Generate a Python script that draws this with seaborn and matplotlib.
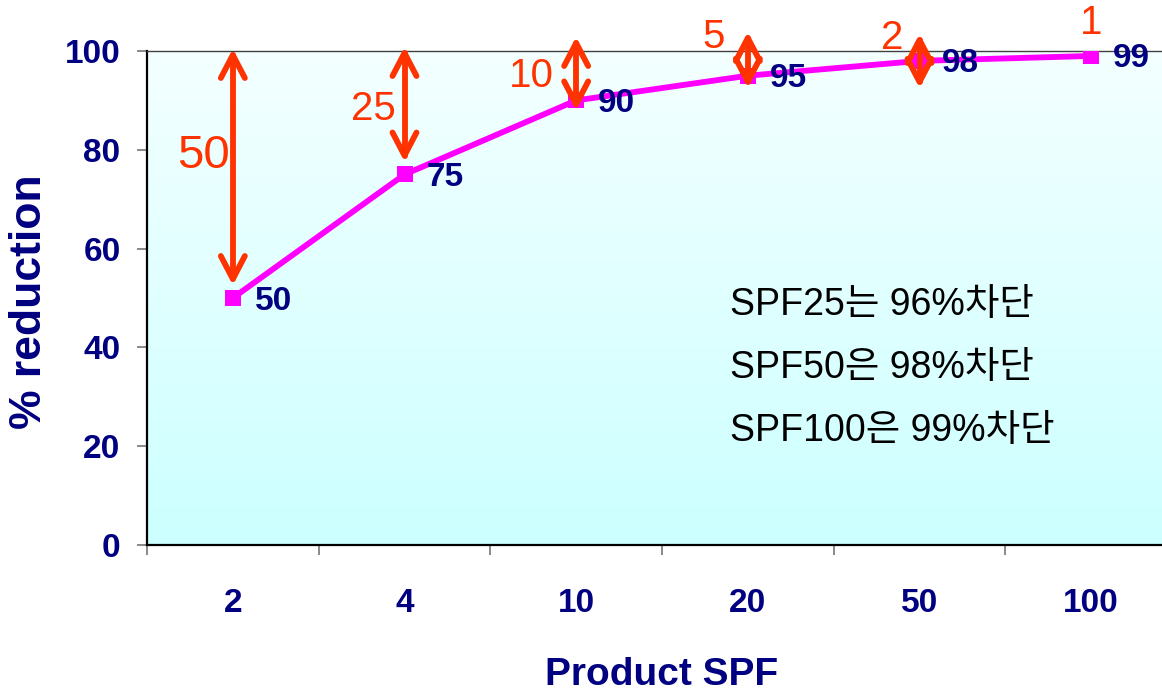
import numpy as np
import pandas as pd
import matplotlib
matplotlib.use("Agg")
import matplotlib.pyplot as plt
from matplotlib.colors import LinearSegmentedColormap
import seaborn as sns

# SPF products and the share of UV they block
spf_labels = ["2", "4", "10", "20", "50", "100"]
reduction = [50, 75, 90, 95, 98, 99]
# remaining UV that gets through (100 - reduction)
passed = [100 - r for r in reduction]

notes = ["SPF25는 96%차단", "SPF50은 98%차단", "SPF100은 99%차단"]

NAVY = "#000080"
MAGENTA = "#FF00FF"
ORANGE = "#FF3300"

sns.set_theme(style="white")
plt.rcParams["font.family"] = ["Liberation Sans", "DejaVu Sans"]
note_font = ["Liberation Sans", "Noto Sans CJK KR", "Noto Sans CJK SC", "DejaVu Sans"]

W, H = 1162, 694
fig = plt.figure(figsize=(W / 100, H / 100), dpi=100)
ax = fig.add_axes([147 / W, 149 / H, 1030 / W, 494 / H])

df = pd.DataFrame({"pos": np.arange(len(spf_labels)), "reduction": reduction})
n = len(spf_labels)

# soft cyan gradient behind the data
grad = np.linspace(0, 1, 256).reshape(-1, 1)
cmap = LinearSegmentedColormap.from_list("bg", ["#CCFFFF", "#F4FFFF"])
ax.imshow(grad, cmap=cmap, aspect="auto", origin="lower",
          extent=[-0.5, n - 0.5, 0, 100], zorder=0)

sns.lineplot(data=df, x="pos", y="reduction", ax=ax, color=MAGENTA,
             linewidth=4.2, marker="s", markersize=11, markeredgewidth=0,
             zorder=3)
ax.set_xlim(-0.5, n - 0.5)
ax.set_ylim(0, 100)

# pixel -> data scale factors for drawing fixed-size arrow heads
px_x = n / 1030.0
px_y = 100.0 / 494.0

# value labels next to each point
for i, r in enumerate(reduction):
    ax.annotate(f"{r}", xy=(i, r), xytext=(22, -3), textcoords="offset pixels",
                ha="left", va="center", fontsize=24, fontweight="bold",
                color=NAVY, zorder=5)

# double-headed arrows showing how much UV still passes
# (pixel offsets of the top tip above 100 and the bottom tip above the point)
tip_offsets = [(-4, 19), (-2, 19), (8, -4), (13, -6), (11, -21)]
head_len, head_half = 23, 12
arrow_kw = dict(color=ORANGE, lw=4.2, solid_capstyle="round",
                solid_joinstyle="round", clip_on=False, zorder=4)
for i, r in enumerate(reduction):
    if i >= len(tip_offsets):
        continue
    top = 100 + tip_offsets[i][0] * px_y
    bot = r + tip_offsets[i][1] * px_y
    ax.plot([i, i], [top, bot], **arrow_kw)
    hx, hy = head_half * px_x, head_len * px_y
    ax.plot([i - hx, i, i + hx], [top - hy, top, top - hy], **arrow_kw)
    ax.plot([i - hx, i, i + hx], [bot + hy, bot, bot + hy], **arrow_kw)

label_pos = [(-0.17, 78.7), (0.82, 88.3), (1.74, 94.9), (2.80, 102.8),
             (3.84, 102.6), (5.0, 105.7)]
label_size = [34, 29, 29, 29, 29, 29]
for i, p in enumerate(passed):
    lx, ly = label_pos[i]
    ax.text(lx, ly, f"{p}", ha="center", va="center", fontsize=label_size[i],
            color=ORANGE, zorder=5, clip_on=False)

# explanatory notes
for k, line in enumerate(notes):
    fig.text(730 / W, (H - 305 - k * 63) / H, line,
             ha="left", va="center", fontsize=27, color="black",
             family=note_font, zorder=6)

# axes styling
ax.set_yticks([0, 20, 40, 60, 80, 100])
ax.set_xticks(np.arange(n))
ax.set_xticklabels(spf_labels)
ax.set_xticks(np.arange(-0.5, n + 0.5, 1), minor=True)
ax.tick_params(axis="x", which="major", length=0, pad=31, labelsize=24,
               labelcolor=NAVY)
ax.tick_params(axis="x", which="minor", length=7, width=1.3, color="#808080",
               direction="out", bottom=True)
ax.tick_params(axis="y", which="major", length=7, width=1.3, color="#808080",
               direction="out", left=True, pad=12, labelsize=24, labelcolor=NAVY)
for lab in ax.get_xticklabels() + ax.get_yticklabels():
    lab.set_fontweight("bold")

for side in ["left", "bottom"]:
    ax.spines[side].set_color("black")
    ax.spines[side].set_linewidth(1.6)
ax.spines["top"].set_color("#404040")
ax.spines["top"].set_linewidth(1.0)
ax.spines["right"].set_visible(False)

ax.set_xlabel("Product SPF", fontsize=28, fontweight="bold", color=NAVY)
ax.set_ylabel("% reduction", fontsize=32, fontweight="bold", color=NAVY)
ax.xaxis.set_label_coords((662 - 147) / 1030, -(657 - 545) / 494)
ax.yaxis.set_label_coords(-(147 - 50) / 1030, (545 - 302) / 494)

fig.savefig("out.png", dpi=100, facecolor="white")
